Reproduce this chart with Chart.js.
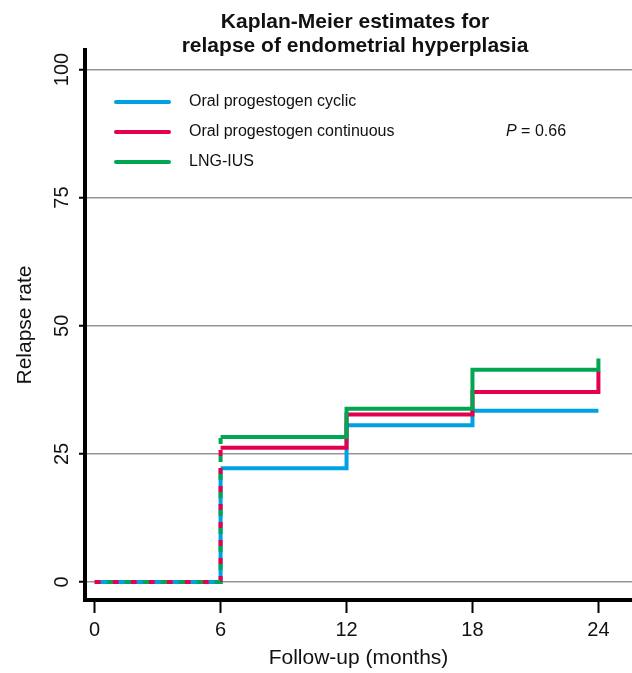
<!DOCTYPE html>
<html>
<head>
<meta charset="utf-8">
<title>Kaplan-Meier estimates</title>
<script src="https://cdn.jsdelivr.net/npm/chart.js@4.4.1/dist/chart.umd.min.js"></script>
<style>
  html, body { margin: 0; padding: 0; background: #ffffff; }
  #grafico { display: block; }
</style>
</head>
<body>
<canvas id="grafico" width="632" height="673"></canvas>
<script>
// Datos (meses de seguimiento y tasa de recaida en %)
var meses = [0, 6, 12, 18, 24];
var ciclico = [0, 22.2, 30.6, 33.4, 33.4];
var continuo = [0, 26.2, 32.7, 37.1, 41.2];
var lngIus = [0, 28.3, 33.8, 41.4, 43.6];

var etiquetas = ['Oral progestogen cyclic', 'Oral progestogen continuous', 'LNG-IUS'];
var colores = ['rgb(0,160,228)', 'rgb(228,0,78)', 'rgb(0,166,82)'];

var titulo = ['Kaplan-Meier estimates for', 'relapse of endometrial hyperplasia'];
var tituloX = 'Follow-up (months)';
var tituloY = 'Relapse rate';
var textoP = ' = 0.66';

var fuente = '"Liberation Sans", Arial, Helvetica, sans-serif';
Chart.defaults.font.family = fuente;
Chart.defaults.color = '#111111';

// convierte las listas en puntos {x, y}
function puntos(valores) {
  var salida = [];
  for (var i = 0; i < meses.length; i++) {
    salida.push({ x: meses[i], y: valores[i] });
  }
  return salida;
}

// el tramo inicial (0 a 6 meses) es comun a las tres curvas, se dibuja punteado
function serie(indice, valores, dash, offset, orden) {
  return {
    label: etiquetas[indice],
    data: puntos(valores),
    borderColor: colores[indice],
    borderWidth: 4,
    pointRadius: 0,
    stepped: 'before',
    fill: false,
    order: orden,
    segment: {
      borderDash: function(ctx) { return ctx.p0DataIndex === 0 ? dash : undefined; },
      borderDashOffset: function(ctx) { return ctx.p0DataIndex === 0 ? offset : undefined; }
    }
  };
}

// titulo, leyenda y valor P dentro del area del grafico
var extras = {
  id: 'extras',
  afterDraw: function(chart) {
    var ctx = chart.ctx;
    ctx.save();
    ctx.fillStyle = '#111111';
    ctx.textAlign = 'center';
    ctx.textBaseline = 'alphabetic';
    ctx.font = 'bold 21px ' + fuente;
    ctx.fillText(titulo[0], 355, 28);
    ctx.fillText(titulo[1], 355, 52);

    ctx.textAlign = 'left';
    ctx.textBaseline = 'middle';
    ctx.font = '16px ' + fuente;
    for (var i = 0; i < etiquetas.length; i++) {
      var fila = 102 + i * 30;
      ctx.strokeStyle = colores[i];
      ctx.lineWidth = 4;
      ctx.lineCap = 'round';
      ctx.beginPath();
      ctx.moveTo(116, fila);
      ctx.lineTo(169, fila);
      ctx.stroke();
      ctx.fillText(etiquetas[i], 189, fila);
    }

    ctx.font = 'italic 16px ' + fuente;
    ctx.fillText('P', 506, 132);
    var ancho = ctx.measureText('P').width;
    ctx.font = '16px ' + fuente;
    ctx.fillText(textoP, 506 + ancho, 132);
    ctx.restore();
  }
};

var grafico = new Chart(document.getElementById('grafico'), {
  type: 'line',
  data: {
    datasets: [
      serie(0, ciclico, undefined, 0, 3),
      serie(1, continuo, [6, 12], 0, 2),
      serie(2, lngIus, [6, 12], 6, 1)
    ]
  },
  options: {
    responsive: false,
    animation: false,
    layout: { padding: { top: 50, left: 0, right: 0, bottom: 0 } },
    plugins: {
      legend: { display: false },
      title: { display: false },
      tooltip: { enabled: false }
    },
    scales: {
      x: {
        type: 'linear',
        min: -0.46,
        max: 25.6,
        afterFit: function(scale) { scale.height = 73; },
        border: { display: true, color: '#000000', width: 4 },
        grid: {
          drawOnChartArea: false,
          drawTicks: true,
          tickLength: 13,
          tickColor: '#000000',
          tickWidth: 2
        },
        ticks: {
          stepSize: 6,
          includeBounds: false,
          maxRotation: 0,
          padding: 5,
          color: '#111111',
          font: { size: 20 }
        },
        title: {
          display: true,
          text: tituloX,
          color: '#111111',
          font: { size: 21 },
          padding: { top: 0, bottom: 2.4 }
        }
      },
      y: {
        min: -3.5,
        max: 103.8,
        afterFit: function(scale) { scale.width = 85; },
        border: { display: true, color: '#000000', width: 4 },
        grid: {
          color: 'rgb(150,150,150)',
          lineWidth: 1.5,
          drawTicks: true,
          tickLength: 6,
          tickColor: '#000000',
          tickWidth: 2
        },
        ticks: {
          stepSize: 25,
          includeBounds: false,
          minRotation: 90,
          maxRotation: 90,
          crossAlign: 'center',
          padding: 0,
          color: '#111111',
          font: { size: 20 }
        },
        title: {
          display: true,
          text: tituloY,
          color: '#111111',
          font: { size: 21 },
          padding: { top: 12.4, bottom: 0 }
        }
      }
    }
  },
  plugins: [extras]
});
</script>
</body>
</html>
